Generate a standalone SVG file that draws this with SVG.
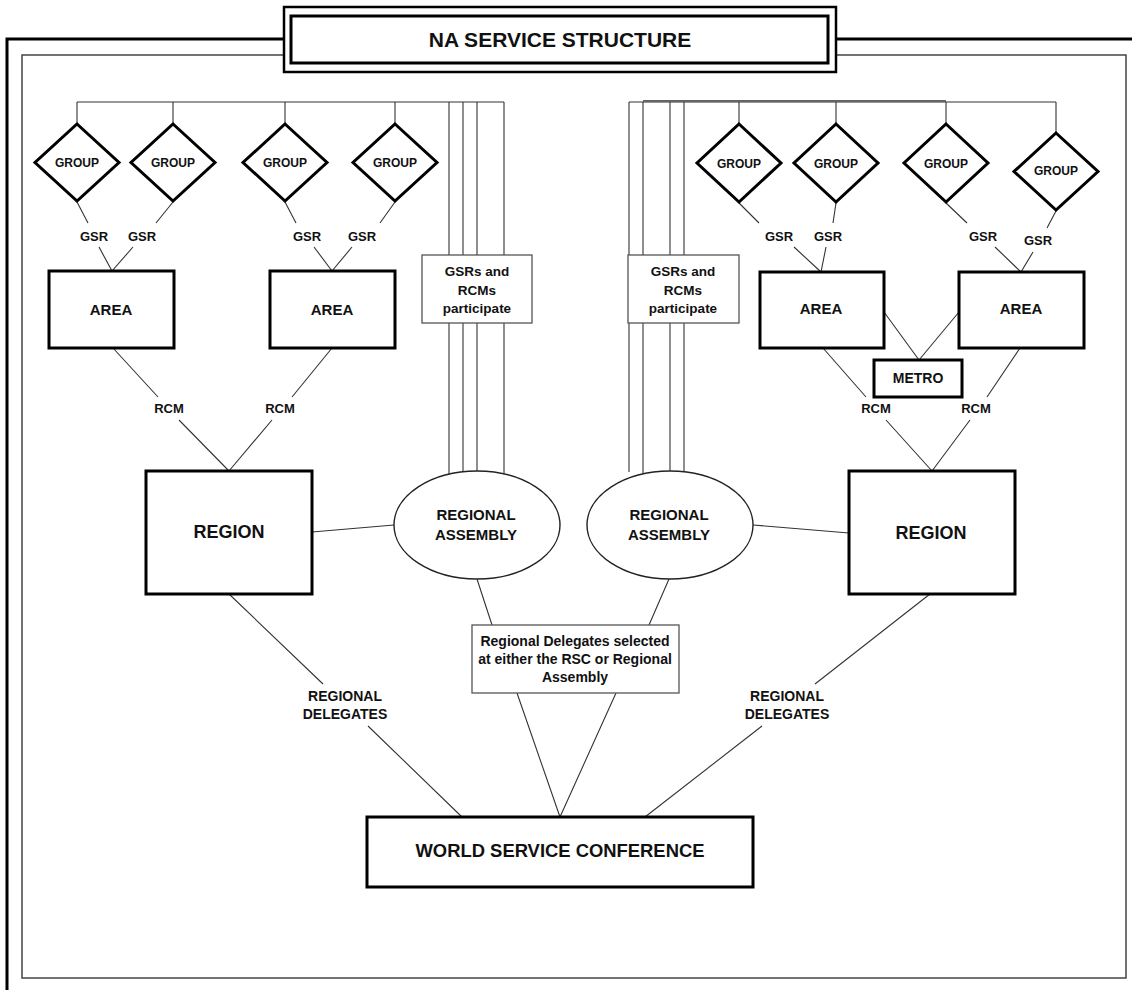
<svg xmlns="http://www.w3.org/2000/svg" width="1132" height="990" viewBox="0 0 1132 990">
<style>
text{font-family:"Liberation Sans",Arial,sans-serif;font-weight:bold;fill:#111;text-anchor:middle}
.thin{stroke:#333;stroke-width:1.1;fill:none}
.bold{stroke:#000;stroke-width:3;fill:#fff}
.note{stroke:#555;stroke-width:1.3;fill:#fff}
.ell{stroke:#222;stroke-width:1.4;fill:#fff}
.grp{font-size:12px}
.lbl{font-size:13px}
.area{font-size:15px}
.reg{font-size:18px}
.ra{font-size:15px}
.nt{font-size:13.5px}
.dl{font-size:14px}
</style>
<rect width="1132" height="990" fill="#fff"/>
<g id="frame">
<path d="M7,990 V39 H284 M836,39 H1132" fill="none" stroke="#000" stroke-width="3"/>
<path d="M284,55 H22 V978 H1126 V55 H836" fill="none" stroke="#444" stroke-width="1.5"/>
</g>
<g id="title">
<rect x="284" y="7" width="552" height="65" fill="#fff" stroke="#000" stroke-width="2.5"/>
<rect x="291" y="16" width="537" height="47" fill="none" stroke="#000" stroke-width="3"/>
<text x="560" y="46.5" style="font-size:21px">NA SERVICE STRUCTURE</text>
</g>
<g id="connectors" class="thin">
<path d="M77,102 H504 M77,102 V124 M173,102 V124 M285,102 V124 M395,102 V124"/>
<path d="M449,102 V474 M463,102 V472 M477,102 V471 M504,102 V474"/>
<path d="M629,102 H1056 M643,100.8 H946 M739,102 V124 M836,102 V124 M946,102 V124 M1056,102 V133"/>
<path d="M629,102 V472 M643,102 V473 M670,102 V471 M684,102 V472"/>
<path d="M77,202 L88,223 M173,202 L156,223 M99,247 L112,271 M133,247 L112,271"/>
<path d="M285,202 L296,223 M395,202 L380,223 M314,247 L332,271 M352,247 L332,271"/>
<path d="M739,203 L759,223 M836,203 L833,223 M794,247 L821,272 M826,247 L821,272"/>
<path d="M946,203 L967,223 M1056,211 L1047,228 M995,247 L1021,272 M1033,252 L1021,272"/>
<path d="M113,348 L158,397 M179,420 L229,471 M332,348 L292,397 M272,420 L229,471"/>
<path d="M823,348 L866,397 M886,420 L932,471 M1020,348 L987,397 M970,420 L932,471"/>
<path d="M884,312 L919,360 M959,312 L919,360"/>
<path d="M312,532 L394,525 M753,525 L849,533"/>
<path d="M477,579 L492,625 M669,579 L649,625"/>
<path d="M229,594 L323,684 M368,726 L462,817 M930,594 L815,684 M762,726 L645,817"/>
<path d="M517,693 L560,817 M616,693 L560,817"/>
</g>
<g id="labels">
<text class="lbl" x="94" y="241">GSR</text>
<text class="lbl" x="142" y="241">GSR</text>
<text class="lbl" x="307" y="241">GSR</text>
<text class="lbl" x="362" y="241">GSR</text>
<text class="lbl" x="779" y="241">GSR</text>
<text class="lbl" x="828" y="241">GSR</text>
<text class="lbl" x="983" y="241">GSR</text>
<text class="lbl" x="1038" y="244.5">GSR</text>
<text class="lbl" x="169" y="413">RCM</text>
<text class="lbl" x="280" y="413">RCM</text>
<text class="lbl" x="876" y="413">RCM</text>
<text class="lbl" x="976" y="413">RCM</text>
<text class="dl" x="345" y="701">REGIONAL</text>
<text class="dl" x="345" y="719">DELEGATES</text>
<text class="dl" x="787" y="701">REGIONAL</text>
<text class="dl" x="787" y="719">DELEGATES</text>
</g>
<g id="group1"><polygon class="bold" points="77,124 119,162.5 77,201 35,162.5"/><text class="grp" x="77" y="167">GROUP</text></g>
<g id="group2"><polygon class="bold" points="173,124 215,162.5 173,201 131,162.5"/><text class="grp" x="173" y="167">GROUP</text></g>
<g id="group3"><polygon class="bold" points="285,124 327,162.5 285,201 243,162.5"/><text class="grp" x="285" y="167">GROUP</text></g>
<g id="group4"><polygon class="bold" points="395,124 437,162.5 395,201 353,162.5"/><text class="grp" x="395" y="167">GROUP</text></g>
<g id="group5"><polygon class="bold" points="739,124 781,163 739,202 697,163"/><text class="grp" x="739" y="167.5">GROUP</text></g>
<g id="group6"><polygon class="bold" points="836,124 878,163 836,202 794,163"/><text class="grp" x="836" y="167.5">GROUP</text></g>
<g id="group7"><polygon class="bold" points="946,124 988,163 946,202 904,163"/><text class="grp" x="946" y="167.5">GROUP</text></g>
<g id="group8"><polygon class="bold" points="1056,133 1098,171.5 1056,210 1014,171.5"/><text class="grp" x="1056" y="175">GROUP</text></g>
<g id="area1"><rect class="bold" x="49" y="271" width="125" height="77"/><text class="area" x="111" y="314.5">AREA</text></g>
<g id="area2"><rect class="bold" x="270" y="271" width="125" height="77"/><text class="area" x="332" y="314.5">AREA</text></g>
<g id="area3"><rect class="bold" x="760" y="272" width="124" height="76"/><text class="area" x="821" y="313.5">AREA</text></g>
<g id="area4"><rect class="bold" x="959" y="272" width="125" height="76"/><text class="area" x="1021" y="313.5">AREA</text></g>
<g id="metro"><rect class="bold" x="874" y="360" width="88" height="37"/><text x="918" y="383" style="font-size:14px">METRO</text></g>
<g id="note-left"><rect class="note" x="422" y="255" width="110" height="68"/><text class="nt" x="477" y="276">GSRs and</text><text class="nt" x="477" y="295">RCMs</text><text class="nt" x="477" y="313">participate</text></g>
<g id="note-right"><rect class="note" x="628" y="255" width="111" height="68"/><text class="nt" x="683" y="276">GSRs and</text><text class="nt" x="683" y="295">RCMs</text><text class="nt" x="683" y="313">participate</text></g>
<g id="region-left"><rect class="bold" x="146" y="471" width="166" height="123"/><text class="reg" x="229" y="537.5">REGION</text></g>
<g id="region-right"><rect class="bold" x="849" y="471" width="166" height="123"/><text class="reg" x="931" y="538.5">REGION</text></g>
<g id="assembly-left"><ellipse class="ell" cx="477" cy="525" rx="83" ry="54"/><text class="ra" x="476" y="519.5">REGIONAL</text><text class="ra" x="476" y="539.5">ASSEMBLY</text></g>
<g id="assembly-right"><ellipse class="ell" cx="670" cy="525" rx="83" ry="54"/><text class="ra" x="669" y="519.5">REGIONAL</text><text class="ra" x="669" y="539.5">ASSEMBLY</text></g>
<g id="delegates-note"><rect class="note" x="472" y="625" width="207" height="68"/><text class="dl" x="575" y="646">Regional Delegates selected</text><text class="dl" x="575" y="664">at either the RSC or Regional</text><text class="dl" x="575" y="682">Assembly</text></g>
<g id="wsc"><rect class="bold" x="367" y="817" width="386" height="70"/><text x="560" y="857" style="font-size:19px" textLength="289" lengthAdjust="spacingAndGlyphs">WORLD SERVICE CONFERENCE</text></g>
</svg>
